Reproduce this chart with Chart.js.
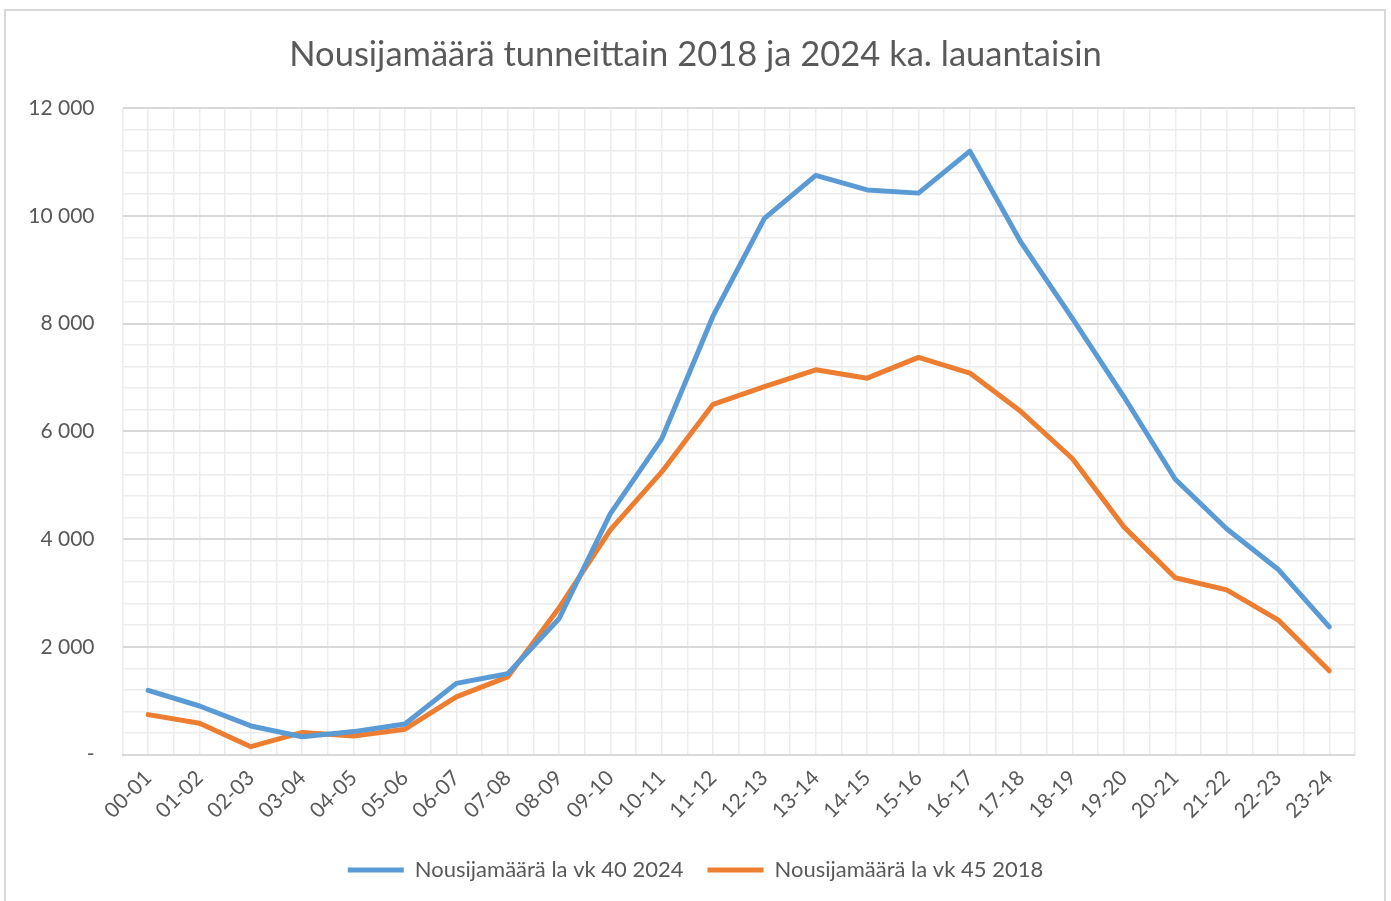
<!DOCTYPE html>
<html>
<head>
<meta charset="utf-8">
<script src="https://cdn.jsdelivr.net/npm/chart.js@4"></script>
<style>
  html, body { margin: 0; padding: 0; background: #fff; overflow: hidden; }
  #wrap { position: relative; width: 1391px; height: 901px; overflow: hidden; }
  #frame { position: absolute; left: 4px; top: 9px; width: 1382px; height: 900px; border: 2px solid #d9d9d9; border-bottom: none; box-sizing: border-box; }
  canvas { position: absolute; left: 0; top: 0; }
</style>
</head>
<body>
<div id="wrap">
  <div id="frame"></div>
  <canvas id="chart"></canvas>
</div>
<script>
// Hours of the day
const hours = ['00-01', '01-02', '02-03', '03-04', '04-05', '05-06', '06-07', '07-08',
  '08-09', '09-10', '10-11', '11-12', '12-13', '13-14', '14-15', '15-16',
  '16-17', '17-18', '18-19', '19-20', '20-21', '21-22', '22-23', '23-24'];

// Boardings, Saturday week 40 2024
const boardings2024 = [1190, 900, 530, 330, 425, 565, 1320, 1500,
  2520, 4470, 5860, 8140, 9950, 10750, 10480, 10420,
  11200, 9500, 8090, 6640, 5110, 4190, 3440, 2370];

// Boardings, Saturday week 45 2018
const boardings2018 = [740, 580, 145, 410, 345, 470, 1070, 1440,
  2720, 4170, 5245, 6500, 6830, 7140, 6985, 7370,
  7080, 6360, 5490, 4225, 3280, 3055, 2500, 1555];

const yMax = 12000;
const yMinorStep = 400;
const yMajorStep = 2000;

const FONT = "'Lato', 'Open Sans', sans-serif";
const TEXT = '#595959';
const GRID_MINOR = '#ececec';
const GRID_MAJOR = '#d9d9d9';

function fmt(v) {
  if (v === 0) return '-';
  return String(v).replace(/\B(?=(\d{3})+(?!\d))/g, ' ');
}

new Chart(document.getElementById('chart'), {
  type: 'line',
  data: {
    labels: hours,
    datasets: [
      {
        label: 'Nousijamäärä la vk 40 2024',
        data: boardings2024,
        borderColor: '#5B9BD5',
        backgroundColor: '#5B9BD5',
        borderWidth: 5,
        borderCapStyle: 'round',
        borderJoinStyle: 'round',
        pointRadius: 0,
        tension: 0,
      },
      {
        label: 'Nousijamäärä la vk 45 2018',
        data: boardings2018,
        borderColor: '#ED7D31',
        backgroundColor: '#ED7D31',
        borderWidth: 5,
        borderCapStyle: 'round',
        borderJoinStyle: 'round',
        pointRadius: 0,
        tension: 0,
      },
    ],
  },
  options: {
    responsive: true,
    maintainAspectRatio: false,
    animation: false,
    layout: { padding: { left: 0, right: 0, top: 0, bottom: 10 } },
    plugins: {
      title: {
        display: true,
        text: 'Nousijamäärä tunneittain 2018 ja 2024 ka. lauantaisin',
        color: TEXT,
        font: { family: FONT, size: 34.5, weight: 'normal', lineHeight: 1.2 },
        padding: { top: 34, bottom: 32.6 },
      },
      legend: {
        position: 'bottom',
        labels: {
          usePointStyle: true,
          pointStyle: 'line',
          pointStyleWidth: 56,
          color: TEXT,
          font: { family: FONT, size: 22 },
          padding: 24,
        },
      },
      tooltip: { enabled: false },
    },
    scales: {
      x: {
        type: 'category',
        offset: true,
        grid: { offset: true, color: GRID_MINOR, lineWidth: 1.5, drawTicks: false },
        border: { color: GRID_MAJOR, width: 2 },
        ticks: {
          color: TEXT,
          font: { family: FONT, size: 21 },
          minRotation: 45,
          maxRotation: 45,
          padding: 11,
          autoSkip: false,
        },
        afterFit: (s) => { s.height = 80.5; },
      },
      x2: {
        type: 'category',
        labels: hours,
        offset: true,
        position: 'bottom',
        grid: { offset: false, color: GRID_MINOR, lineWidth: 1.5, drawTicks: false },
        border: { display: false },
        ticks: { display: false },
        afterFit: (s) => { s.height = 0; },
      },
      y: {
        min: 0,
        max: yMax,
        grid: {
          drawTicks: false,
          color: (c) => (c.tick && c.tick.value % yMajorStep === 0 ? GRID_MAJOR : GRID_MINOR),
          lineWidth: (c) => (c.tick && c.tick.value % yMajorStep === 0 ? 2 : 1.5),
        },
        border: { display: false },
        ticks: {
          stepSize: yMinorStep,
          autoSkip: false,
          color: TEXT,
          font: { family: FONT, size: 21 },
          padding: 28,
          callback: (v) => (v % yMajorStep === 0 ? fmt(v) : ''),
        },
        afterFit: (s) => { s.width = 122.5; },
      },
      // empty right-hand spacer so title and legend stay centred on the page
      yRight: {
        type: 'linear',
        position: 'right',
        grid: { display: false, drawTicks: false },
        border: { display: false },
        ticks: { display: false },
        afterFit: (s) => { s.width = 36; },
      },
    },
  },
});
</script>
</body>
</html>
